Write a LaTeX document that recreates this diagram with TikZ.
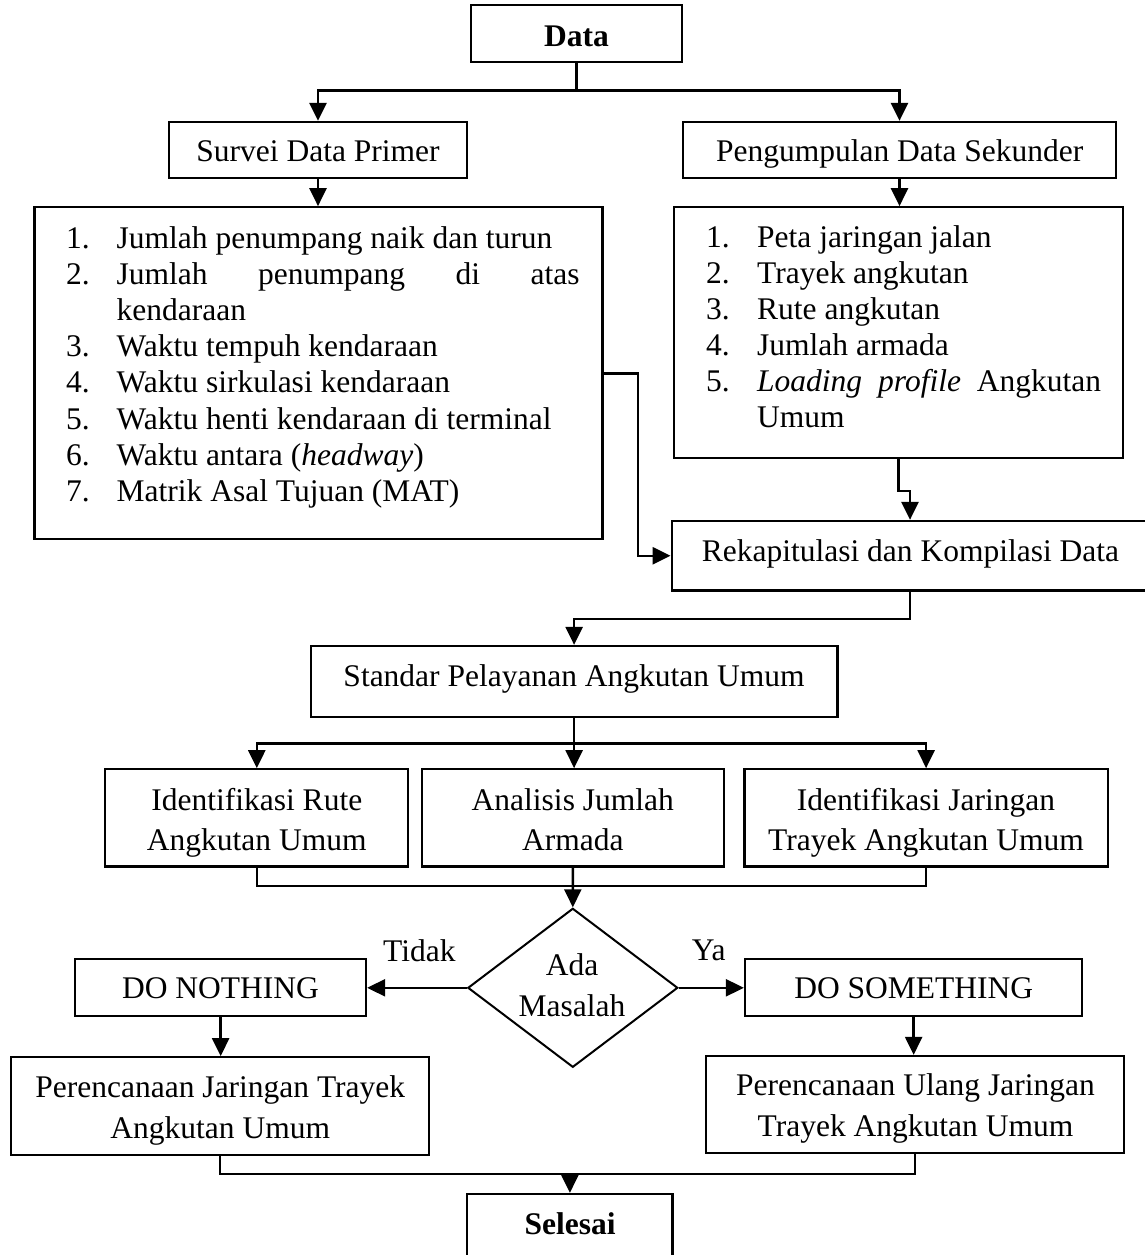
\documentclass[tikz,border=0pt]{standalone}
\usepackage{fontspec}
\setmainfont{Liberation Serif}
\usetikzlibrary{fit,shapes.geometric,arrows.meta}
\tikzset{
  box/.style={draw, line width=2.3pt, rectangle, inner sep=0pt},
  txt/.style={inner sep=0pt, anchor=base},
  itm/.style={inner sep=0pt, anchor=base west},
  arr/.style={line width=2.5pt, -{Triangle[width=17pt,length=18pt]}},
  ln/.style={line width=2.5pt},
}
\begin{document}
\begin{tikzpicture}[x=1pt,y=-1pt,font=\fontsize{31.5}{36.2}\selectfont]
\useasboundingbox (0,0) rectangle (1144,1255);
% boxes
\node[box, fit={(471,5) (682,62)}] (data) {};
\node[box, fit={(169,122) (467,178)}] (survei) {};
\node[box, fit={(683,122) (1116,178)}] (sekunder) {};
\node[box, fit={(34.4,207.3) (602.5,539.3)}] (listL) {};
\node[box, fit={(674.3,207.3) (1122.7,457.7)}] (listR) {};
\node[box, fit={(671.7,521) (1148.3,590.5)}] (rekap) {};
\node[box, fit={(310.7,646) (837.5,716.7)}] (standar) {};
\node[box, fit={(105.3,769.3) (408.3,866.5)}] (rute) {};
\node[box, fit={(421.7,769.3) (724,866.5)}] (armada) {};
\node[box, fit={(744.5,769.3) (1107.7,866.5)}] (jaringan) {};
\node[draw, diamond, line width=2pt, minimum width=210pt, minimum height=159pt, inner sep=0pt] (masalah) at (572.8,987.8) {};
\node[box, fit={(75.3,959) (366,1015.7)}] (nothing) {};
\node[box, fit={(745,959.3) (1082.3,1015.7)}] (something) {};
\node[box, fit={(11,1057.3) (429,1155)}] (renc) {};
\node[box, fit={(706,1056) (1124.3,1152.7)}] (rencU) {};
\node[box, fit={(467.3,1194) (672.5,1275)}] (selesai) {};
% texts
\node[txt] (tData) at (576.5,47) {\textbf{Data}};
\node[txt] (tSurvei) at (318,161.7) {Survei Data Primer};
\node[txt] (tSek) at (899.7,161.7) {Pengumpulan Data Sekunder};
\node[itm] (l1n) at (66,248) {1.};
\node[itm] (l1t) at (116.5,248) {Jumlah penumpang naik dan turun};
\node[itm] (l2n) at (66,284.2) {2.};
\node[itm] (l2t) at (116.5,284.2) {\makebox[463pt][s]{Jumlah penumpang di atas}};
\node[itm] (l2u) at (116.5,320.4) {kendaraan};
\node[itm] (l3n) at (66,356.6) {3.};
\node[itm] (l3t) at (116.5,356.6) {Waktu tempuh kendaraan};
\node[itm] (l4n) at (66,392.8) {4.};
\node[itm] (l4t) at (116.5,392.8) {Waktu sirkulasi kendaraan};
\node[itm] (l5n) at (66,429) {5.};
\node[itm] (l5t) at (116.5,429) {Waktu henti kendaraan di terminal};
\node[itm] (l6n) at (66,465.2) {6.};
\node[itm] (l6t) at (116.5,465.2) {Waktu antara (\textit{headway})};
\node[itm] (l7n) at (66,501.4) {7.};
\node[itm] (l7t) at (116.5,501.4) {Matrik Asal Tujuan (MAT)};
\node[itm] (r1n) at (706,247) {1.};
\node[itm] (r1t) at (757,247) {Peta jaringan jalan};
\node[itm] (r2n) at (706,283) {2.};
\node[itm] (r2t) at (757,283) {Trayek angkutan};
\node[itm] (r3n) at (706,319) {3.};
\node[itm] (r3t) at (757,319) {Rute angkutan};
\node[itm] (r4n) at (706,355) {4.};
\node[itm] (r4t) at (757,355) {Jumlah armada};
\node[itm] (r5n) at (706,391) {5.};
\node[itm] (r5t) at (757,391) {\makebox[344pt][s]{\textit{Loading profile} Angkutan}};
\node[itm] (r5u) at (757,427.3) {Umum};
\node[txt] (tRekap) at (910.5,561) {Rekapitulasi dan Kompilasi Data};
\node[txt] (tStandar) at (574,686.7) {Standar Pelayanan Angkutan Umum};
\node[txt] (tRute1) at (256.8,810) {Identifikasi Rute};
\node[txt] (tRute2) at (256.8,850.7) {Angkutan Umum};
\node[txt] (tArm1) at (572.8,810) {Analisis Jumlah};
\node[txt] (tArm2) at (572.8,850.7) {Armada};
\node[txt] (tJar1) at (926,810) {Identifikasi Jaringan};
\node[txt] (tJar2) at (926,850.7) {Trayek Angkutan Umum};
\node[txt] (tAda) at (572,975) {Ada};
\node[txt] (tMas) at (572,1016.7) {Masalah};
\node[itm] (tTidak) at (383,961.7) {Tidak};
\node[itm] (tYa) at (691.7,960.7) {Ya};
\node[txt] (tNothing) at (220.5,998.3) {DO NOTHING};
\node[txt] (tSomething) at (913.7,998.3) {DO SOMETHING};
\node[txt] (tRenc1) at (220.3,1097.3) {Perencanaan Jaringan Trayek};
\node[txt] (tRenc2) at (220.3,1138.3) {Angkutan Umum};
\node[txt] (tRencU1) at (915.5,1095) {Perencanaan Ulang Jaringan};
\node[txt] (tRencU2) at (915.5,1136.7) {Trayek Angkutan Umum};
\node[txt] (tSelesai) at (570,1234) {\textbf{Selesai}};
% junction coordinates
\coordinate (j1) at (0,90.7);
\coordinate (j2) at (0,743.3);
\coordinate (j3) at (0,886);
\coordinate (j4) at (0,1174);
% connectors
\draw[ln] (data.south) -- (data.south |- j1);
\draw[arr] (data.south |- j1) -| (survei.north);
\draw[arr] (data.south |- j1) -| (sekunder.north);
\draw[arr] (survei.south) -- (survei.south |- listL.north);
\draw[arr] (sekunder.south) -- (sekunder.south |- listR.north);
\draw[arr] (listL.east) -- ++(34.5,0) |- (rekap.west);
\draw[arr] (listR.south) -- ++(0,32.3) -| (rekap.north);
\draw[arr] (rekap.south) -- ++(0,27.5) -| (standar.north);
\draw[ln] (standar.south) -- (standar.south |- j2);
\draw[arr] (standar.south |- j2) -| (rute.north);
\draw[arr] (standar.south |- j2) -- (standar.south |- armada.north);
\draw[arr] (standar.south |- j2) -| (jaringan.north);
\draw[ln] (rute.south) |- (jaringan.south |- j3) -- (jaringan.south);
\draw[arr] (armada.south) -- (masalah.north);
\draw[arr] (masalah.west) -- (masalah.west -| nothing.east);
\draw[arr] (masalah.east) -- (masalah.east -| something.west);
\draw[arr] (nothing.south) -- (nothing.south |- renc.north);
\draw[arr] (something.south) -- (something.south |- rencU.north);
\draw[ln] (renc.south) |- (rencU.south |- j4) -- (rencU.south);
\draw[arr] (selesai.north |- j4) -- (selesai.north);
\end{tikzpicture}
\end{document}
